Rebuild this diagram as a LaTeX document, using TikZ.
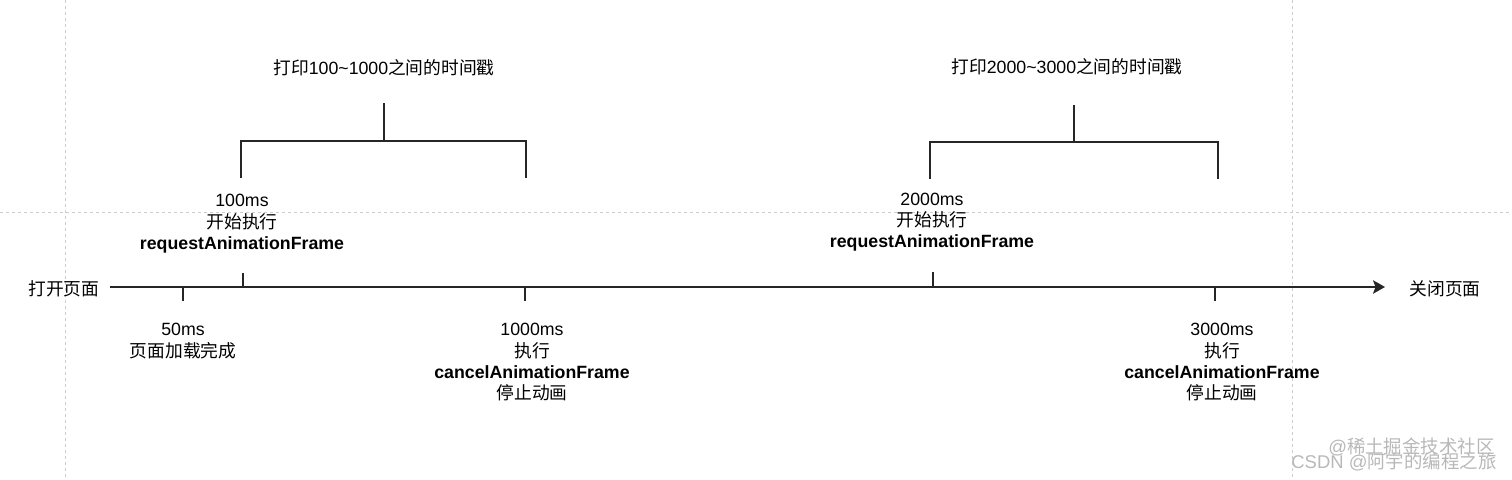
\documentclass[tikz,border=0pt]{standalone}
\usepackage{fontspec}
\setmainfont{Liberation Sans}
\newfontfamily\cjk{Noto Sans CJK SC}
\usetikzlibrary{arrows.meta, positioning}

\begin{document}
\begin{tikzpicture}[x=0.02cm, y=-0.02cm,
        lbl/.style={align=center, inner sep=0pt, font=\fontsize{10.1}{12.1}\selectfont},
        wm/.style={inner sep=0pt, text=black!28, font=\fontsize{10.5}{12}\selectfont},
        line/.style={draw, black!85, line width=0.75pt},
        guide/.style={draw, black!20, line width=0.5pt, dash pattern=on 0.06cm off 0.06cm}]

    \useasboundingbox (0,0) rectangle (1512,480);

    % page guides
    \draw[guide] (65,0) -- (65,480);
    \draw[guide] (1292,0) -- (1292,480);
    \draw[guide] (0,212) -- (1512,212);

    % time axis
    \node [lbl] (open) at (64,289) {\cjk 打开页面};
    \node [lbl] (close) at (1445,289) {\cjk 关闭页面};
    \coordinate (axS) at (110,287);
    \coordinate (axE) at (1385,287);
    \draw [line, -{Stealth[length=0.24cm, width=0.27cm, inset=0.05cm]}] (axS) -- (axE);

    % ticks
    \coordinate (t50) at (183,287);
    \coordinate (t100) at (243,287);
    \coordinate (t1000) at (525,287);
    \coordinate (t2000) at (933,287);
    \coordinate (t3000) at (1215,287);
    \draw [line] (t50) -- ++(0,14) coordinate (t50b);
    \draw [line] (t100) -- ++(0,-14) coordinate (t100b);
    \draw [line] (t1000) -- ++(0,14) coordinate (t1000b);
    \draw [line] (t2000) -- ++(0,-15) coordinate (t2000b);
    \draw [line] (t3000) -- ++(0,14) coordinate (t3000b);

    % tick labels
    \node [lbl, above=0.39cm of t100b, xshift=-0.02cm] (l100) {100ms\\{\cjk 开始执行}\\\textbf{requestAnimationFrame}};
    \node [lbl, above=0.40cm of t2000b, xshift=-0.02cm] (l2000) {2000ms\\{\cjk 开始执行}\\\textbf{requestAnimationFrame}};
    \node [lbl, below=0.44cm of t50b] (l50) {50ms\\{\cjk 页面加载完成}};
    \node [lbl, below=0.44cm of t1000b, xshift=0.14cm] (l1000) {1000ms\\{\cjk 执行}\\\textbf{cancelAnimationFrame}\\{\cjk 停止动画}};
    \node [lbl, below=0.44cm of t3000b, xshift=0.14cm] (l3000) {3000ms\\{\cjk 执行}\\\textbf{cancelAnimationFrame}\\{\cjk 停止动画}};

    % brackets
    \coordinate (b1l) at (241,178);
    \coordinate (b1r) at (526,178);
    \coordinate (b1j) at (384,141);
    \coordinate (b1t) at (384,103);
    \draw [line] (b1l) |- (b1j) -| (b1r);
    \draw [line] (b1j) -- (b1t);
    \node [lbl, above=0.54cm of b1t] (p1) {{\cjk 打印}100\textasciitilde1000{\cjk 之间的时间戳}};

    \coordinate (b2l) at (930,179);
    \coordinate (b2r) at (1218,179);
    \coordinate (b2j) at (1074,142);
    \coordinate (b2t) at (1074,105);
    \draw [line] (b2l) |- (b2j) -| (b2r);
    \draw [line] (b2j) -- (b2t);
    \node [lbl, above=0.6cm of b2t, xshift=-0.14cm] (p2) {{\cjk 打印}2000\textasciitilde3000{\cjk 之间的时间戳}};

    % watermark
    \node [wm, anchor=east] (wm2) at (1495,447) {@{\cjk 稀土掘金技术社区}};
    \node [wm, anchor=east] (wm1) at (1497,462) {CSDN @{\cjk 阿宇的编程之旅}};
\end{tikzpicture}
\end{document}
